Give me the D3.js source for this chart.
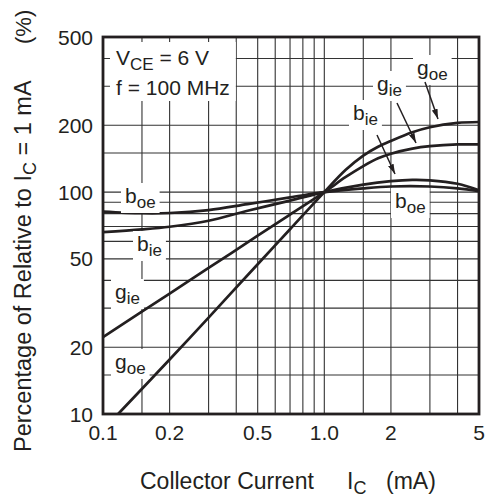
<!DOCTYPE html>
<html>
<head>
<meta charset="utf-8">
<script src="https://cdn.jsdelivr.net/npm/d3@7"></script>
<style>
  body { margin: 0; background: #fff; }
  text { font-family: "Liberation Sans", Arial, sans-serif; fill: #231f20; }
</style>
</head>
<body>
<div id="chart"></div>
<script>
// Grid and tick values (log-log chart)
const xGrid = [0.15, 0.2, 0.3, 0.4, 0.5, 0.6, 0.7, 0.8, 0.9, 1, 1.5, 2, 3, 4];
const yGrid = [15, 20, 30, 40, 50, 60, 70, 80, 90, 100, 150, 200, 300, 400];
const xTicks = [0.1, 0.2, 0.5, 1, 2, 5];
const xTickLabels = ["0.1", "0.2", "0.5", "1.0", "2", "5"];
const yTicks = [10, 20, 50, 100, 200, 500];

// Curves: collector current (mA) vs percentage relative to Ic = 1 mA
const goeCurrent = [0.117, 0.2, 0.3, 0.5, 0.7, 1, 1.25, 1.5, 1.75, 2, 2.5, 3, 4, 5];
const goeValue = [10, 17.6, 27.2, 47.3, 68, 100, 126, 146, 160, 170, 186, 196, 205, 207];
const gieCurrent = [0.1, 0.2, 0.3, 0.5, 0.7, 1, 1.25, 1.5, 1.75, 2, 2.5, 3, 4, 5];
const gieValue = [22.2, 34.9, 45.5, 63.6, 79.2, 100, 117, 131, 142, 149, 157, 161, 164, 164];
const bieCurrent = [0.1, 0.15, 0.2, 0.3, 0.45, 0.7, 1, 1.5, 2, 2.5, 3, 4, 5];
const bieValue = [66, 67.9, 69.8, 74.3, 82.4, 91.5, 100, 108, 112, 113.5, 113, 109, 102];
const boeCurrent = [0.1, 0.15, 0.2, 0.3, 0.45, 0.7, 1, 1.5, 2, 3, 4, 5];
const boeValue = [81.7, 80.3, 80.5, 83, 88.3, 94.6, 100, 104, 106, 106, 104, 101];

const W = 485, H = 498;
const margin = { top: 37, right: 6, bottom: 84, left: 103 };
const width = W - margin.left - margin.right;
const height = H - margin.top - margin.bottom;
const ink = "#231f20";

const svg = d3.select("#chart")
  .append("svg")
  .attr("width", W)
  .attr("height", H);

const g = svg.append("g")
  .attr("transform", `translate(${margin.left},${margin.top})`);

const x = d3.scaleLog().domain([0.1, 5]).range([0, width]);
const y = d3.scaleLog().domain([10, 500]).range([height, 0]);

// Grid
g.selectAll(".vgrid")
  .data(xGrid)
  .enter()
  .append("line")
  .attr("x1", d => x(d)).attr("x2", d => x(d))
  .attr("y1", 0).attr("y2", height)
  .attr("stroke", "#333").attr("stroke-width", 1.1);

g.selectAll(".hgrid")
  .data(yGrid)
  .enter()
  .append("line")
  .attr("y1", d => y(d)).attr("y2", d => y(d))
  .attr("x1", 0).attr("x2", width)
  .attr("stroke", "#333").attr("stroke-width", 1.1);

// Curves
const series = [
  { cur: goeCurrent, val: goeValue },
  { cur: gieCurrent, val: gieValue },
  { cur: bieCurrent, val: bieValue },
  { cur: boeCurrent, val: boeValue }
];

const line = d3.line()
  .x(d => x(d[0]))
  .y(d => y(d[1]))
  .curve(d3.curveCatmullRom.alpha(0.5));

series.forEach(s => {
  g.append("path")
    .datum(d3.zip(s.cur, s.val))
    .attr("fill", "none")
    .attr("stroke", ink)
    .attr("stroke-width", 2.7)
    .attr("d", line);
});

// Labels with white background boxes
function label(parent, px, py, main, sub) {
  const grp = parent.append("g");
  const rect = grp.append("rect").attr("fill", "#fff");
  const t = grp.append("text")
    .attr("x", px).attr("y", py)
    .attr("font-size", 21);
  t.append("tspan").text(main);
  t.append("tspan").attr("dy", 5).attr("font-size", 17).text(sub);
  const b = t.node().getBBox();
  rect.attr("x", b.x - 4).attr("y", b.y - 1)
    .attr("width", b.width + 8).attr("height", b.height + 2);
  return grp;
}

const ann = svg.append("g");
label(ann, 125, 203, "b", "oe");
label(ann, 137, 251, "b", "ie");
label(ann, 115, 299, "g", "ie");
label(ann, 115, 369, "g", "oe");
label(ann, 417, 75, "g", "oe");
label(ann, 377, 91, "g", "ie");
label(ann, 353, 120, "b", "ie");
label(ann, 395, 208, "b", "oe");

// Condition box
const cond = svg.append("g");
const condRect = cond.append("rect").attr("fill", "#fff");
const c1 = cond.append("text").attr("x", 116).attr("y", 65).attr("font-size", 21);
c1.append("tspan").text("V");
c1.append("tspan").attr("dy", 5).attr("font-size", 17).text("CE");
c1.append("tspan").attr("dy", -5).text(" = 6 V");
cond.append("text").attr("x", 116).attr("y", 95).attr("font-size", 21).text("f = 100 MHz");
const cb = cond.node().getBBox();
condRect.attr("x", cb.x - 6).attr("y", cb.y - 4)
  .attr("width", cb.width + 12).attr("height", cb.height + 6);

// Arrows
svg.append("defs").append("marker")
  .attr("id", "arrow")
  .attr("viewBox", "0 0 10 6")
  .attr("refX", 10).attr("refY", 3)
  .attr("markerWidth", 10).attr("markerHeight", 6)
  .attr("markerUnits", "userSpaceOnUse")
  .attr("orient", "auto")
  .append("path")
  .attr("d", "M0,0 L10,3 L0,6 Z")
  .attr("fill", ink);

const arrows = [
  [425, 82, 438, 119],
  [397, 103, 416, 143],
  [377, 135, 395, 174]
];
svg.selectAll(".arrow")
  .data(arrows)
  .enter()
  .append("line")
  .attr("x1", d => d[0]).attr("y1", d => d[1])
  .attr("x2", d => d[2]).attr("y2", d => d[3])
  .attr("stroke", ink).attr("stroke-width", 1.5)
  .attr("marker-end", "url(#arrow)");

// Frame
g.append("rect")
  .attr("width", width).attr("height", height)
  .attr("fill", "none")
  .attr("stroke", ink)
  .attr("stroke-width", 2.8);

// Tick labels
g.selectAll(".xtick")
  .data(xTicks)
  .enter()
  .append("text")
  .attr("x", d => x(d))
  .attr("y", height + 26)
  .attr("text-anchor", "middle")
  .attr("font-size", 21)
  .text((d, i) => xTickLabels[i]);

g.selectAll(".ytick")
  .data(yTicks)
  .enter()
  .append("text")
  .attr("x", -10)
  .attr("y", d => y(d))
  .attr("dy", "0.36em")
  .attr("text-anchor", "end")
  .attr("font-size", 21)
  .text(d => d);

// Axis titles
const xt = svg.append("text")
  .attr("x", 140).attr("y", 489)
  .attr("font-size", 23);
xt.append("tspan").text("Collector Current");
xt.append("tspan").attr("x", 347).text("I");
xt.append("tspan").attr("dy", 5).attr("font-size", 18).text("C");
xt.append("tspan").attr("x", 386).attr("dy", -5).text("(mA)");

const yt = svg.append("text")
  .attr("transform", "translate(31,452) rotate(-90)")
  .attr("font-size", 23.5);
yt.append("tspan").text("Percentage of Relative to I");
yt.append("tspan").attr("dy", 5).attr("font-size", 18).text("C");
yt.append("tspan").attr("dy", -5).text(" = 1 mA");

svg.append("text")
  .attr("transform", "translate(31,44) rotate(-90)")
  .attr("font-size", 22)
  .text("(%)");
</script>
</body>
</html>
